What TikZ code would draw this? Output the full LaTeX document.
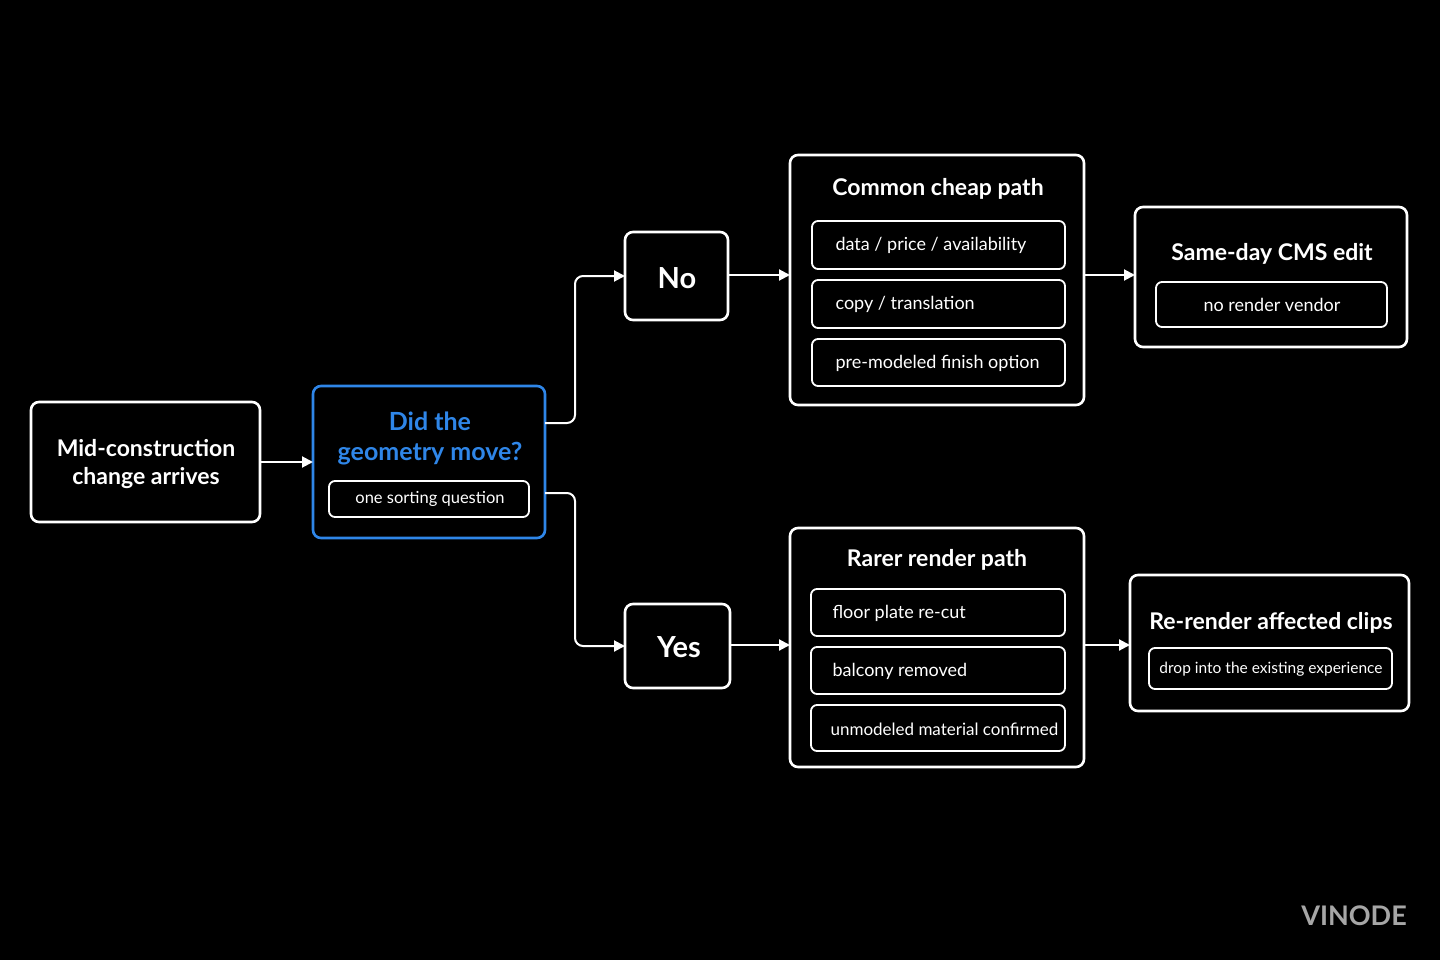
\documentclass[tikz,border=0pt]{standalone}
\usepackage{fontspec}
\setmainfont{Lato}
\usetikzlibrary{arrows.meta}
\definecolor{blu}{HTML}{2F86E8}
\begin{document}
\begin{tikzpicture}[x=1pt,y=-1pt,
 box/.style={draw=white,line width=2.6pt,rounded corners=8pt},
 ibox/.style={draw=white,line width=1.8pt,rounded corners=6pt},
 ttl/.style={text=white,font=\fontsize{23}{28}\selectfont\bfseries,align=center},
 big/.style={text=white,font=\fontsize{29}{32}\selectfont\bfseries},
 itm/.style={text=white,font=\fontsize{18}{20}\selectfont,anchor=west},
 arr/.style={draw=white,line width=2pt,-{Triangle[length=11pt,width=11pt]}},
 lnk/.style={draw=white,line width=2pt,rounded corners=8pt,-{Triangle[length=11pt,width=11pt]}}]
\fill[black] (0,0) rectangle (1440,960);
\useasboundingbox (0,0) rectangle (1440,960);
% start
\draw[box] (31,402) rectangle (260,522);
\node[ttl] (a) at (146,464) {Mid-construction\\change arrives};
\coordinate (aR) at (260,462);
% decision
\draw[box,draw=blu] (313,386) rectangle (545,538);
\node[ttl,text=blu,font=\fontsize{25}{30}\selectfont\bfseries] (b) at (430,438) {Did the\\geometry move?};
\draw[ibox] (329,481) rectangle (529,517);
\node[text=white,font=\fontsize{16.5}{18}\selectfont] (bq) at (430,499) {one sorting question};
\coordinate (bL) at (313,462);
\coordinate (bT) at (545,423);
\coordinate (bB) at (545,493);
% No/Yes
\draw[box] (625,232) rectangle (728,320);
\node[big] (no) at (677,278) {No};
\draw[box] (625,604) rectangle (730,688);
\node[big] (yes) at (679,647) {Yes};
\coordinate (noL) at (625,276); \coordinate (noR) at (728,275);
\coordinate (yesL) at (625,646); \coordinate (yesR) at (730,645);
% common
\draw[box] (790,155) rectangle (1084,405);
\node[ttl] (c) at (938,189) {Common cheap path};
\draw[ibox] (812,221) rectangle (1065,269); \node[itm] (c1) at (832,245) {data / price / availability};
\draw[ibox] (812,280) rectangle (1065,328); \node[itm] (c2) at (832,304) {copy / translation};
\draw[ibox] (812,339) rectangle (1065,386); \node[itm] (c3) at (832,363) {pre-modeled finish option};
\coordinate (cL) at (790,275); \coordinate (cR) at (1084,275);
% rarer
\draw[box] (790,528) rectangle (1084,767);
\node[ttl] (r) at (937,560) {Rarer render path};
\draw[ibox] (811,589) rectangle (1065,636); \node[itm] (r1) at (829,613) {floor plate re-cut};
\draw[ibox] (811,647) rectangle (1065,694); \node[itm] (r2) at (829,671) {balcony removed};
\draw[ibox] (811,705) rectangle (1065,751); \node[itm,font=\fontsize{17}{20}\selectfont] (r3) at (827,729) {unmodeled material confirmed};
\coordinate (rL) at (790,645); \coordinate (rR) at (1084,645);
% same-day
\draw[box] (1135,207) rectangle (1407,347);
\node[ttl] (s) at (1272,254) {Same-day CMS edit};
\draw[ibox] (1156,282) rectangle (1387,327);
\node[text=white,font=\fontsize{18}{20}\selectfont] (s1) at (1272,305) {no render vendor};
\coordinate (sL) at (1135,275);
% re-render
\draw[box] (1130,575) rectangle (1409,711);
\node[ttl] (e) at (1271,623) {Re-render affected clips};
\draw[ibox] (1149,648) rectangle (1392,689);
\node[text=white,font=\fontsize{15.5}{17}\selectfont] (e1) at (1271,669) {drop into the existing experience};
\coordinate (eL) at (1130,645);
% connectors
\draw[arr] (aR) -- (bL);
\draw[lnk] (bT) -| (575,276) -- (noL);
\draw[lnk] (bB) -| (575,646) -- (yesL);
\draw[arr] (noR) -- (cL);
\draw[arr] (yesR) -- (rL);
\draw[arr] (cR) -- (sL);
\draw[arr] (rR) -- (eL);
\node[text=gray!70,font=\fontsize{27}{30}\selectfont\bfseries] (w) at (1354,916) {VINODE};
\end{tikzpicture}
\end{document}
